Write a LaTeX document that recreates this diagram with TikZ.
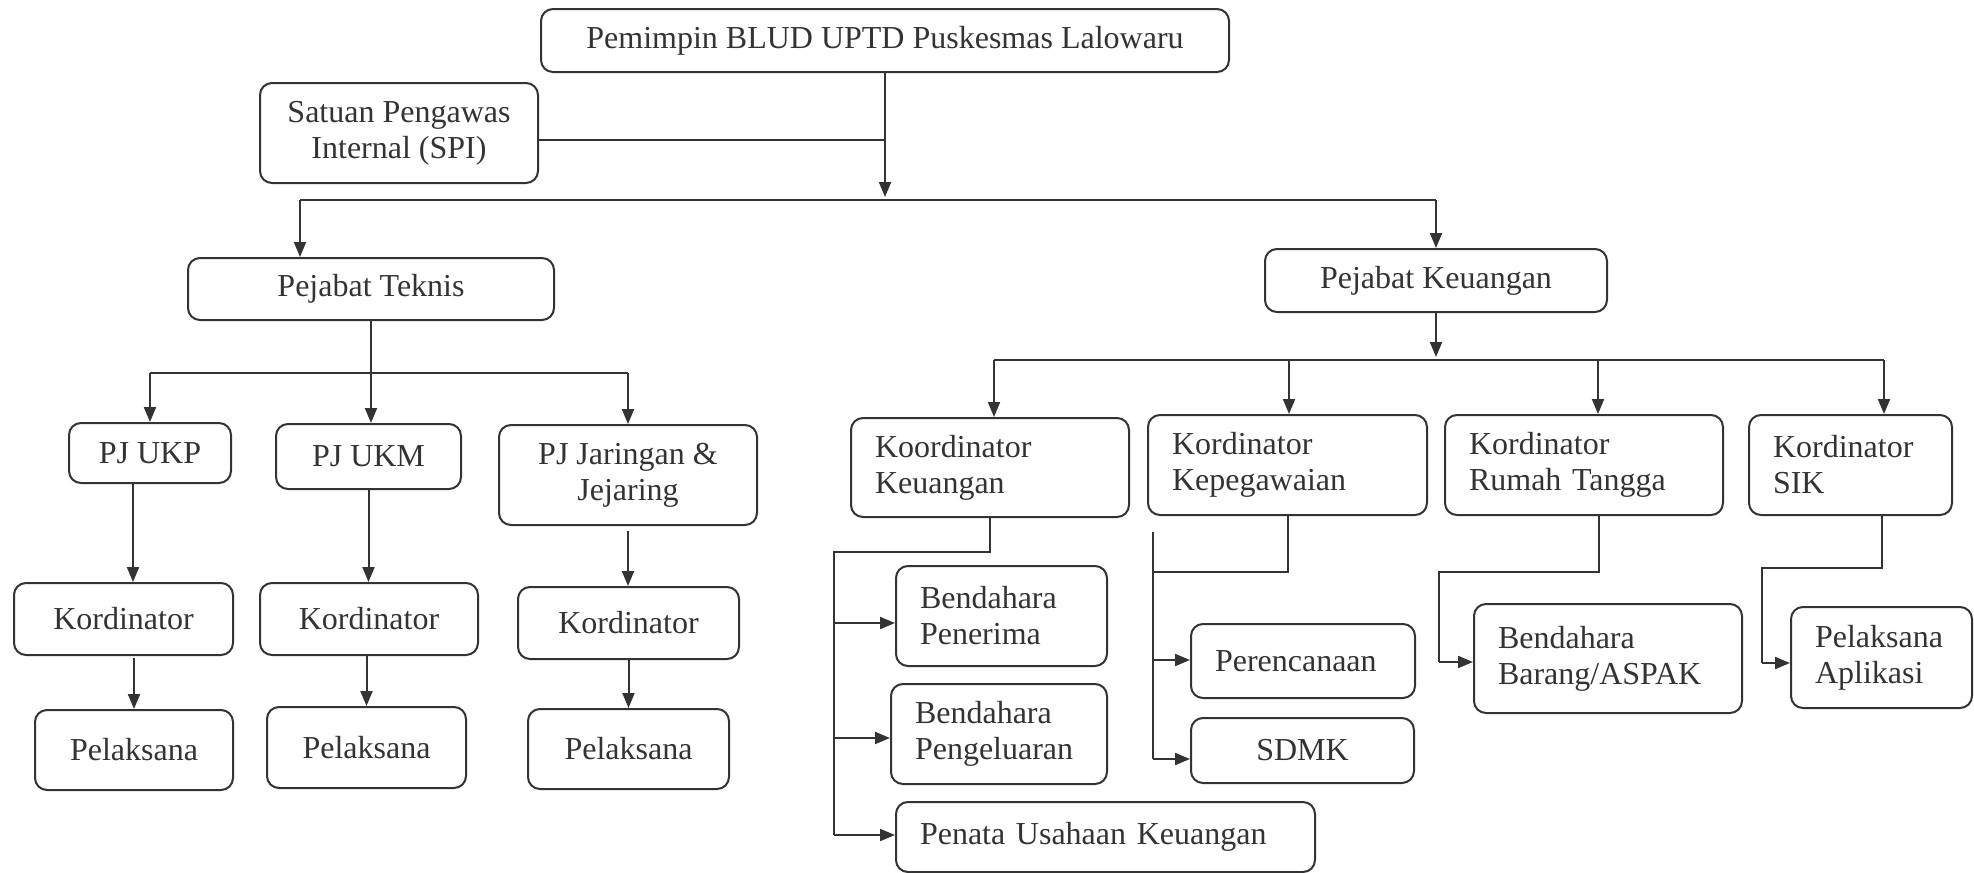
\documentclass[tikz,border=0pt]{standalone}
\usepackage{fontspec}
\setmainfont{Liberation Serif}
\usetikzlibrary{arrows.meta}
\definecolor{ink}{HTML}{333333}
\begin{document}
\begin{tikzpicture}[x=1pt,y=-1pt,
  box/.style={draw=ink, line width=2pt, rounded corners=12pt, inner sep=0pt, align=center, text=ink, font=\fontsize{32}{36}\selectfont},
  lbox/.style={box, align=left, inner xsep=24pt},
  line/.style={draw=ink, line width=2pt},
  arr/.style={line, -{Triangle[length=15pt,width=12pt]}}]
\useasboundingbox (0,0) rectangle (1974,873);

% top level
\node[box, minimum width=688pt, minimum height=63pt] (top) at (885,40.5) {Pemimpin BLUD UPTD Puskesmas Lalowaru};
\node[box, minimum width=278pt, minimum height=100pt] (spi) at (399,133) {Satuan Pengawas\\Internal (SPI)};
\node[box, minimum width=366pt, minimum height=62pt] (pt) at (371,289) {Pejabat Teknis};
\node[box, minimum width=342pt, minimum height=63pt] (pk) at (1436,280.5) {Pejabat Keuangan};

% left branch
\node[box, minimum width=162pt, minimum height=60pt] (ukp) at (150,453) {PJ UKP};
\node[box, minimum width=185pt, minimum height=65pt] (ukm) at (368.5,456.5) {PJ UKM};
\node[box, minimum width=258pt, minimum height=100pt] (jar) at (628,475) {PJ Jaringan \&\\Jejaring};
\node[box, minimum width=219pt, minimum height=72pt] (k1) at (123.5,619) {Kordinator};
\node[box, minimum width=218pt, minimum height=72pt] (k2) at (369,619) {Kordinator};
\node[box, minimum width=221pt, minimum height=72pt] (k3) at (628.5,623) {Kordinator};
\node[box, minimum width=198pt, minimum height=80pt] (p1) at (134,750) {Pelaksana};
\node[box, minimum width=199pt, minimum height=81pt] (p2) at (366.5,747.5) {Pelaksana};
\node[box, minimum width=201pt, minimum height=80pt] (p3) at (628.5,749) {Pelaksana};

% right branch
\node[lbox, text width=230pt, minimum height=99pt] (kk) at (990,467.5) {Koordinator\\Keuangan};
\node[lbox, text width=231pt, minimum height=100pt] (kp) at (1287.5,465) {Kordinator\\Kepegawaian};
\node[lbox, text width=230pt, minimum height=100pt] (krt) at (1584,465) {Kordinator\\Rumah Tangga};
\node[lbox, text width=155pt, minimum height=100pt] (ksik) at (1850.5,465) {Kordinator\\SIK};
\node[lbox, text width=163pt, minimum height=100pt] (bp) at (1001.5,616) {Bendahara\\Penerima};
\node[lbox, text width=168pt, minimum height=100pt] (bpg) at (999,734) {Bendahara\\Pengeluaran};
\node[lbox, text width=371pt, minimum height=70pt] (puk) at (1105.5,837) {Penata Usahaan Keuangan};
\node[lbox, text width=176pt, minimum height=74pt] (per) at (1303,661) {Perencanaan};
\node[box, minimum width=223pt, minimum height=65pt] (sdmk) at (1302.5,750.5) {SDMK};
\node[lbox, text width=220pt, minimum height=109pt] (bb) at (1608,658.5) {Bendahara\\Barang/ASPAK};
\node[lbox, text width=133pt, minimum height=101pt] (pa) at (1881.5,657.5) {Pelaksana\\Aplikasi};

% coordinates
\coordinate (jT) at (885,200);
\coordinate (aPT) at (300,200);
\coordinate (aPK) at (1436,200);
\coordinate (bT) at (371,373);
\coordinate (bK) at (1436,360);
\coordinate (c1) at (994,360);
\coordinate (c2) at (1289,360);
\coordinate (c3) at (1598,360);
\coordinate (c4) at (1884,360);
\coordinate (kkL) at (834,552);
\coordinate (kkA) at (834,623);
\coordinate (kkB) at (834,738);
\coordinate (kkC) at (834,835);
\coordinate (kpJ) at (1153,572);
\coordinate (kpT) at (1153,532);
\coordinate (kpA) at (1153,660);
\coordinate (kpB) at (1153,759);
\coordinate (rtD) at (1599,572);
\coordinate (rtL) at (1439,572);
\coordinate (rtA) at (1439,662);
\coordinate (skD) at (1882,568);
\coordinate (skL) at (1762,568);
\coordinate (skA) at (1762,663);

% top connectors
\draw[arr] (top.south) -- ([yshift=3pt]jT);
\draw[line] ([yshift=-7pt]spi.east) -- ([yshift=-7pt]spi.east -| top.south);
\draw[line] (aPT) -- (aPK);
\draw[arr] (aPT) -- (aPT |- pt.north);
\draw[arr] (aPK) -- (pk.north);

% left connectors
\draw[arr] (pt.south) -- (pt.south |- ukm.north);
\draw[line] (ukp.north |- bT) -- (jar.north |- bT);
\draw[arr] (ukp.north |- bT) -- (ukp.north);
\draw[arr] (jar.north |- bT) -- (jar.north);
\draw[arr] ([xshift=-17pt]ukp.south) -- ([xshift=-17pt]ukp.south |- k1.north);
\draw[arr] (ukm.south) -- (ukm.south |- k2.north);
\draw[arr] ([yshift=-5pt]jar.south) -- (jar.south |- k3.north);
\draw[arr] ([yshift=-2pt]k1.south -| p1.north) -- (p1.north);
\draw[arr] (k2.south -| p2.north) -- (p2.north);
\draw[arr] (k3.south) -- (p3.north);

% right connectors
\draw[arr] (pk.south) -- ([yshift=3pt]bK);
\draw[line] (c1) -- (c4);
\draw[arr] (c1) -- (c1 |- kk.north);
\draw[arr] (c2) -- (c2 |- kp.north);
\draw[arr] (c3) -- (c3 |- krt.north);
\draw[arr] (c4) -- (c4 |- ksik.north);

\draw[line] (kk.south) -- (kk.south |- kkL) -- (kkL) -- (kkC);
\draw[arr] (kkA) -- (kkA -| bp.west);
\draw[arr] (kkB) -- (kkB -| bpg.west);
\draw[arr] (kkC) -- (kkC -| puk.west);

\draw[line] (kp.south) -- (kp.south |- kpJ) -- (kpJ);
\draw[line] (kpT) -- (kpB);
\draw[arr] (kpA) -- (kpA -| per.west);
\draw[arr] (kpB) -- (kpB -| sdmk.west);

\draw[line] (rtD |- krt.south) -- (rtD) -- (rtL) -- (rtA);
\draw[arr] (rtA) -- (rtA -| bb.west);

\draw[line] (skD |- ksik.south) -- (skD) -- (skL) -- (skA);
\draw[arr] (skA) -- (skA -| pa.west);
\end{tikzpicture}
\end{document}
